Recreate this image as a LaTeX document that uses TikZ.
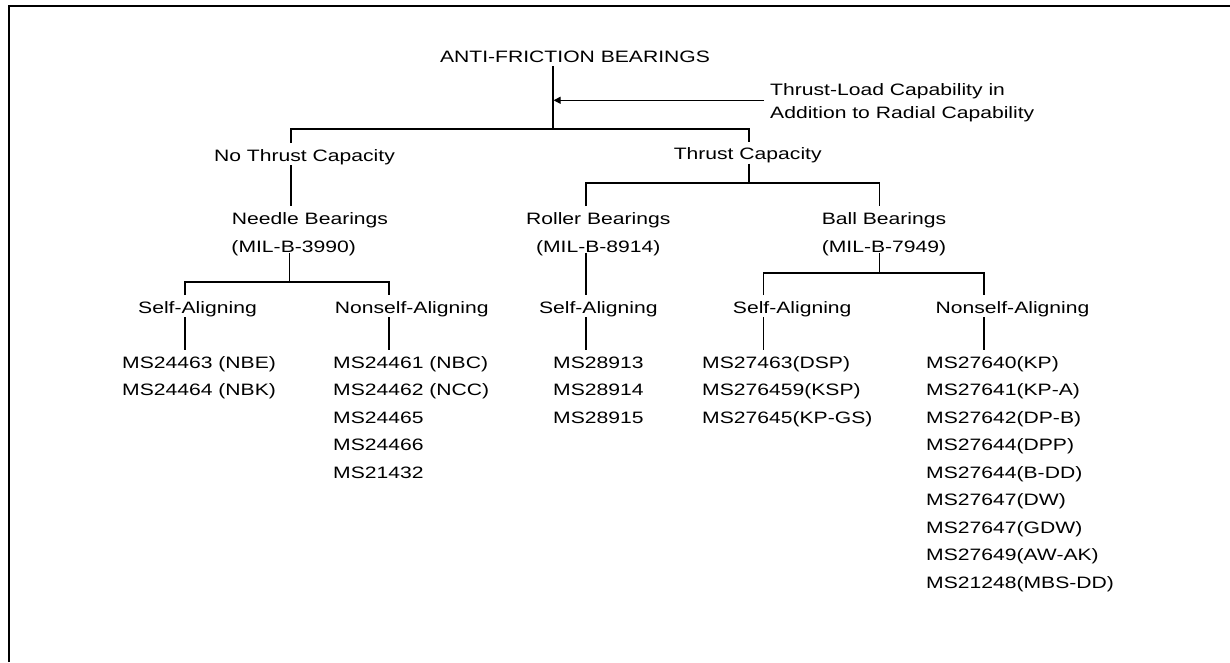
\documentclass[tikz,border=0pt]{standalone}
\usepackage{fontspec}
\setmainfont{Liberation Sans}[FakeStretch=1.28]
\usepackage{tikz}
\usetikzlibrary{arrows.meta}

\tikzset{
    lbl/.style={anchor=base, inner sep=0pt, text height=17.8pt, text depth=4pt,
        font=\fontsize{16.5}{20}\selectfont},
    item/.style={lbl, anchor=base west},
    conn/.style={line width=1.2pt},
}

\begin{document}
\begin{tikzpicture}[x=1pt,y=-1pt]
        \useasboundingbox (0,0) rectangle (1230,662);

        % Frame, open at right and bottom
        \draw[line width=2.3pt] (9,662) -- (9,6.3) -- (1230,6.3);

        % Top of the tree
        \node[lbl] (anti) at (575,62) {ANTI-FRICTION BEARINGS};
        \node[anchor=north west, inner sep=0pt, align=left,
            font=\fontsize{16.5}{23}\selectfont] (load) at (770,83.2)
            {Thrust-Load Capability in\\Addition to Radial Capability};

        % Second and third level
        \node[lbl] (nothr) at (304.5,161) {No Thrust Capacity};
        \node[lbl] (thr) at (747.7,159.5) {Thrust Capacity};
        \node[lbl] (needle) at (310,224) {Needle Bearings};
        \node[lbl, text depth=0pt] (needlemil) at (293.7,252.5) {(MIL-B-3990)};
        \node[lbl] (roller) at (598.3,224) {Roller Bearings};
        \node[lbl, text depth=0pt] (rollermil) at (598.3,252.5) {(MIL-B-8914)};
        \node[lbl] (ball) at (884,224) {Ball Bearings};
        \node[lbl, text depth=0pt] (ballmil) at (884,252.5) {(MIL-B-7949)};

        % Alignment level
        \node[lbl] (nself) at (197.5,313) {Self-Aligning};
        \node[lbl] (nnon) at (411.7,313) {Nonself-Aligning};
        \node[lbl] (rself) at (598.3,313) {Self-Aligning};
        \node[lbl] (bself) at (792.2,313) {Self-Aligning};
        \node[lbl] (bnon) at (1012.5,313) {Nonself-Aligning};

        % Part number lists
        \def\dy{27.5}
        \foreach \t [count=\i] in {MS24463 (NBE), MS24464 (NBK)}
            \node[item] (nsl\i) at (122,{368+\dy*(\i-1)}) {\t};
        \foreach \t [count=\i] in {MS24461 (NBC), MS24462 (NCC), MS24465, MS24466, MS21432}
            \node[item] (nnl\i) at (333,{368+\dy*(\i-1)}) {\t};
        \foreach \t [count=\i] in {MS28913, MS28914, MS28915}
            \node[item] (rsl\i) at (553,{368+\dy*(\i-1)}) {\t};
        \foreach \t [count=\i] in {MS27463(DSP), MS276459(KSP), MS27645(KP-GS)}
            \node[item] (bsl\i) at (702,{368+\dy*(\i-1)}) {\t};
        \foreach \t [count=\i] in {MS27640(KP), MS27641(KP-A), MS27642(DP-B), MS27644(DPP),
                MS27644(B-DD), MS27647(DW), MS27647(GDW), MS27649(AW-AK), MS21248(MBS-DD)}
            \node[item] (bnl\i) at (926,{368+\dy*(\i-1)}) {\t};

        % Branch points and stub columns
        \coordinate (top) at (553,129);
        \coordinate (tbar) at (749,183);
        \coordinate (nbar) at (289.3,282);
        \coordinate (bbar) at (879.3,273);
        \coordinate (sN) at (291,0);
        \coordinate (sR) at (586,0);
        \coordinate (sNS) at (185,0);
        \coordinate (sNN) at (389,0);
        \coordinate (sBS) at (763.3,0);
        \coordinate (sBN) at (984,0);

        % Tree lines
        \draw[conn] (anti.south -| top) -- (top);
        \draw[conn] (nothr.north -| sN) |- (top) -| (thr.north -| tbar);
        \draw[conn] (thr.south -| tbar) -- (tbar);
        \draw[conn] (roller.north -| sR) |- (tbar) -| (ball.north -| bbar);
        \draw[conn] (nothr.south -| sN) -- (needle.north -| sN);
        \draw[conn] (needlemil.south -| nbar) -- (nbar);
        \draw[conn] (nself.north -| sNS) |- (nbar) -| (nnon.north -| sNN);
        \draw[conn] (rollermil.south -| sR) -- (rself.north -| sR);
        \draw[conn] (ballmil.south -| bbar) -- (bbar);
        \draw[conn] (bself.north -| sBS) |- (bbar) -| (bnon.north -| sBN);
        \draw[conn] (nself.south -| sNS) -- (nsl1.north -| sNS);
        \draw[conn] (nnon.south -| sNN) -- (nnl1.north -| sNN);
        \draw[conn] (rself.south -| sR) -- (rsl1.north -| sR);
        \draw[conn] (bself.south -| sBS) -- (bsl1.north -| sBS);
        \draw[conn] (bnon.south -| sBN) -- (bnl1.north -| sBN);

        % Thrust-load arrow into the trunk
        \coordinate (ld) at ([shift={(-6pt,2.3pt)}]load.west);
        \draw[conn, -{Triangle[length=7pt,width=7pt]}, shorten >=0.6pt] (ld) -- (ld -| top);
    \end{tikzpicture}
\end{document}
